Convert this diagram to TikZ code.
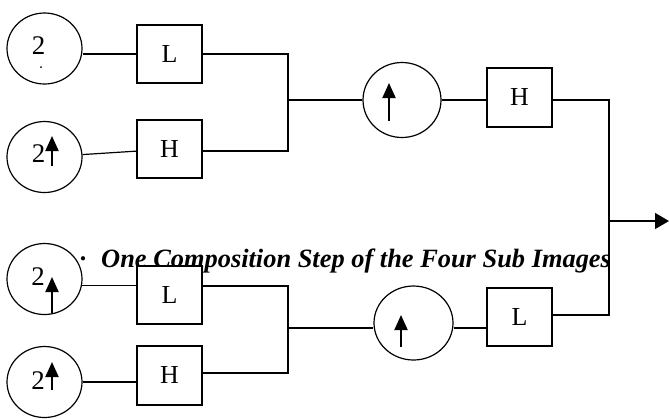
\documentclass[tikz,border=0pt]{standalone}
\usepackage{fontspec}
\setmainfont{Liberation Serif}
\usepackage{tikz}
\usetikzlibrary{calc}
\usetikzlibrary{arrows.meta,shapes}
\usetikzlibrary{positioning}
\newcommand{\upsz}[1]{\fontsize{#1}{#1}\selectfont}

\begin{document}
\begin{tikzpicture}[x=1bp,y=-1bp,line width=1.2bp,
    updisc/.style={draw,ellipse,fill=white,inner sep=0pt,minimum width=75bp,minimum height=71bp},
    filt/.style={draw,rectangle,fill=white,inner sep=0pt,minimum width=65bp,minimum height=58bp,font=\upsz{26}},
    two/.style={inner sep=0pt,font=\upsz{27}},
    uparr/.style={line width=2bp,-{Triangle[width=13bp,length=15bp]}}]
    \useasboundingbox (0,0) rectangle (669,418);
    \node[anchor=base west,inner sep=0pt,font=\bfseries\itshape\upsz{26.5}] (cap) at (79,267) {·\hspace{15bp}One Composition Step of the Four Sub Images};
    \node[updisc] (c1) at (44.5,48.5) {};
    \node[updisc] (c2) at (44.5,157) {};
    \node[updisc] (c3) at (44.5,279) {};
    \node[updisc] (c4) at (44.5,382) {};
    \node[updisc,minimum width=78bp,minimum height=75bp] (u1) at (402,100) {};
    \node[updisc,minimum width=79bp,minimum height=74bp] (u2) at (413.5,323) {};
    \node[filt] (l1) at (169.5,54) {L};
    \node[filt] (h1) at (169.5,149) {H};
    \node[filt] (l2) at (169.5,295) {L};
    \node[filt,minimum height=59bp] (h2) at (169.5,375.5) {H};
    \node[filt,minimum height=59bp] (h3) at (519.5,97.5) {H};
    \node[filt] (l3) at (519.5,317) {L};
    \node[two] (t1) at ($(c1)+(-6,-2.5)$) {2};
    \node[two] (t2) at ($(c2)+(-6,-3)$) {2};
    \node[two] (t3) at ($(c3)+(-6.5,-2.5)$) {2};
    \node[two] (t4) at ($(c4)+(-6.5,-1)$) {2};
    \fill ($(c1)+(-3.5,18.5)$) circle (1bp);
    \draw[uparr] ($(c2)+(7.5,9)$) -- ($(c2)+(7.5,-21)$);
    \draw[uparr] ($(c3)+(7.5,34)$) -- ($(c3)+(7.5,-2)$);
    \draw[uparr] ($(c4)+(7.5,8)$) -- ($(c4)+(7.5,-20)$);
    \draw[uparr] ($(u1)+(-13,21)$) -- ($(u1)+(-13,-17)$);
    \draw[uparr] ($(u2)+(-12.5,24)$) -- ($(u2)+(-12.5,-8)$);
    \coordinate (j1) at (288,100);
    \coordinate (j2) at (288,328);
    \coordinate (j3) at (609,221);
    \coordinate (out) at (669,221);
    \draw (l1.west) -- (l1.west -| c1.east);
    \draw (c2) -- (h1);
    \draw (c3.-10) -- (c3.-10 -| l2.west);
    \draw (c4.east) -- (c4.east -| h2.west);
    \draw (l1.east) -| (j1) |- ([yshift=-2bp]h1.east);
    \draw ([yshift=9bp]l2.east) -| (j2) |- ([yshift=2.5bp]h2.east);
    \draw (j1) -- (j1 -| u1.west);
    \draw (j2) -- (j2 -| u2.west);
    \draw (u1.east) -- (u1.east -| h3.west);
    \draw (j2 -| u2.east) -- (j2 -| l3.west);
    \draw ([yshift=-2.5bp]h3.east) -| (j3) |- ([yshift=2bp]l3.east);
    \draw[-{Triangle[width=16bp,length=14bp]}] (j3) -- (out);
\end{tikzpicture}
\end{document}
